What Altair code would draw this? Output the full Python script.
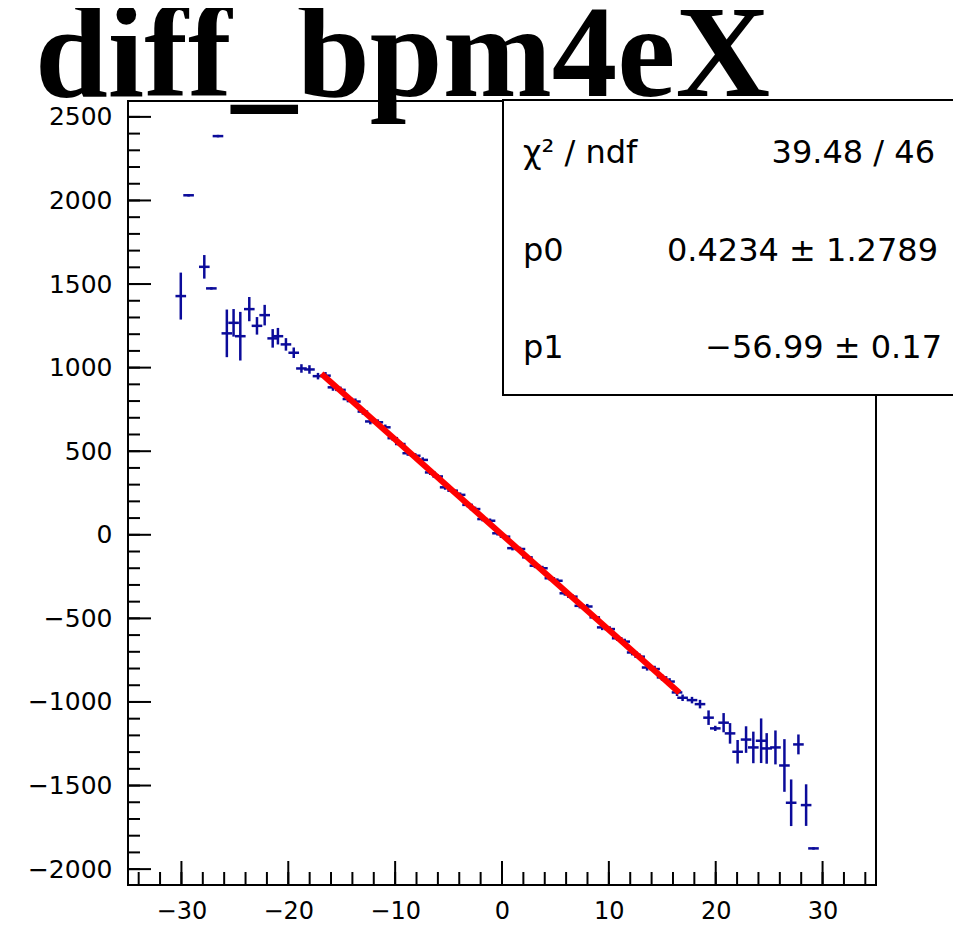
import altair as alt
import pandas as pd

TITLE = "diff_bpm4eX"

# ---- profile points: left tail ----
X_LEFT = [-30.06, -29.33, -27.86, -27.20, -26.58, -25.75, -25.12, -24.49, -23.65,
          -22.93, -22.21, -21.46, -20.97, -20.22, -19.49, -18.77, -18.02, -17.22]
Y_LEFT = [1428, 2031, 1603, 1474, 2385, 1205, 1268, 1188, 1350,
          1250, 1314, 1175, 1188, 1139, 1089, 995, 989, 949]
E_LEFT = [133, 0, 63, 0, 0, 135, 75, 138, 65, 45, 54, 48, 42, 30, 24, 18, 18, 12]

# ---- profile points: fitted core ----
X_MID = [-16.52, -15.82, -15.12, -14.42, -13.72, -13.02, -12.32, -11.62, -10.92, -10.22,
         -9.52, -8.82, -8.12, -7.42, -6.72, -6.02, -5.32, -4.62, -3.92, -3.22,
         -2.52, -1.82, -1.12, -0.42, 0.28, 0.98, 1.68, 2.38, 3.08, 3.78,
         4.48, 5.18, 5.88, 6.58, 7.28, 7.98, 8.68, 9.38, 10.08, 10.78,
         11.48, 12.18, 12.88, 13.58, 14.28, 14.98, 15.68, 16.38]
Y_MID = [952, 882, 867, 812, 797, 737, 678, 673, 643, 578,
         543, 488, 473, 448, 373, 349, 284, 264, 239, 179,
         154, 94, 84, 9, -11, -80, -85, -135, -185, -200,
         -260, -275, -350, -370, -425, -429, -494, -554, -564, -619,
         -639, -704, -729, -794, -803, -853, -878, -943]
E_MID = [14, 13, 12, 12, 11, 11, 10, 10, 9, 9,
         9, 8, 8, 8, 8, 7, 7, 7, 7, 7,
         7, 6, 6, 6, 6, 6, 6, 7, 7, 7,
         7, 7, 7, 8, 8, 8, 8, 9, 9, 9,
         10, 10, 11, 11, 12, 12, 13, 14]

# ---- profile points: right tail ----
X_RIGHT = [16.90, 17.78, 18.53, 19.33, 19.96, 20.74, 21.34, 22.05, 22.84,
           23.52, 24.25, 24.77, 25.59, 26.43, 27.06, 27.74, 28.46, 29.15]
Y_RIGHT = [-975, -989, -1013, -1094, -1158, -1124, -1188, -1298, -1225,
           -1272, -1232, -1278, -1272, -1380, -1603, -1254, -1617, -1876]
E_RIGHT = [12, 12, 18, 36, 8, 50, 54, 63, 72, 87, 126, 84, 94, 150, 132, 52, 117, 0]

# ---- fit result ----
P0, P0_ERR = 0.4234, 1.2789
P1, P1_ERR = -56.99, 0.17
CHI2, NDF = 39.48, 46
FIT_RANGE = [-16.9, 16.6]

# ---- axes ----
X_DOMAIN = [-35, 35]
Y_DOMAIN = [-2095, 2595]
X_MAJOR = [-30, -20, -10, 0, 10, 20, 30]
X_MINOR = list(range(-34, 35, 2))
Y_MAJOR = [-2000, -1500, -1000, -500, 0, 500, 1000, 1500, 2000, 2500]
Y_MINOR = list(range(-2000, 2501, 100))

W, H = 748, 784
BLUE = "#0b0b9a"
HALF_BIN = 0.38

pts = pd.DataFrame({
    "x": X_LEFT + X_MID + X_RIGHT,
    "y": Y_LEFT + Y_MID + Y_RIGHT,
    "err": E_LEFT + E_MID + E_RIGHT,
})
pts["lo"] = pts["y"] - pts["err"]
pts["hi"] = pts["y"] + pts["err"]
pts["xl"] = pts["x"] - HALF_BIN
pts["xr"] = pts["x"] + HALF_BIN

fit = pd.DataFrame({"x": FIT_RANGE, "y": [P0 + P1 * v for v in FIT_RANGE]})
one = pd.DataFrame({"t": [TITLE]})

XS = alt.Scale(domain=X_DOMAIN, nice=False, zero=False)
YS = alt.Scale(domain=Y_DOMAIN, nice=False, zero=False)
XA = alt.Axis(values=X_MAJOR, ticks=False, domain=False, grid=False, format="d",
              labelFont="DejaVu Sans", labelFontSize=24, labelColor="black",
              labelPadding=14, labelFlush=False, labelOverlap=False, title=None)
YA = alt.Axis(values=Y_MAJOR, ticks=False, domain=False, grid=False, format="d",
              labelFont="DejaVu Sans", labelFontSize=25, labelColor="black",
              labelPadding=16, labelFlush=False, labelOverlap=False, title=None)

frame = alt.Chart(one).mark_rect(fillOpacity=0, stroke="black", strokeWidth=2).encode(
    x=alt.value(0), x2=alt.value(W), y=alt.value(0), y2=alt.value(H))

xmaj = alt.Chart(pd.DataFrame({"x": X_MAJOR})).mark_rule(color="black", strokeWidth=2).encode(
    x=alt.X("x:Q", scale=XS, axis=XA), y=alt.value(H), y2=alt.value(H - 24))
xmin = alt.Chart(pd.DataFrame({"x": X_MINOR})).mark_rule(color="black", strokeWidth=2).encode(
    x=alt.X("x:Q", scale=XS, axis=XA), y=alt.value(H), y2=alt.value(H - 13))
ymaj = alt.Chart(pd.DataFrame({"y": Y_MAJOR})).mark_rule(color="black", strokeWidth=2).encode(
    y=alt.Y("y:Q", scale=YS, axis=YA), x=alt.value(0), x2=alt.value(23))
ymin = alt.Chart(pd.DataFrame({"y": Y_MINOR})).mark_rule(color="black", strokeWidth=2).encode(
    y=alt.Y("y:Q", scale=YS, axis=YA), x=alt.value(0), x2=alt.value(12))

vbars = alt.Chart(pts).mark_rule(color=BLUE, strokeWidth=2.5, strokeCap="square").encode(
    x=alt.X("x:Q", scale=XS, axis=XA), y=alt.Y("lo:Q", scale=YS, axis=YA), y2="hi:Q")
hbars = alt.Chart(pts).mark_rule(color=BLUE, strokeWidth=2.5, strokeCap="square").encode(
    x=alt.X("xl:Q", scale=XS, axis=XA), x2="xr:Q", y=alt.Y("y:Q", scale=YS, axis=YA))

fitline = alt.Chart(fit).mark_line(color="#ff0000", strokeWidth=6).encode(
    x=alt.X("x:Q", scale=XS, axis=XA), y=alt.Y("y:Q", scale=YS, axis=YA))

box = alt.Chart(one).mark_rect(fill="white", stroke="black", strokeWidth=2).encode(
    x=alt.value(375), x2=alt.value(900), y=alt.value(-1), y2=alt.value(294))

STAT_FONT = "DejaVu Sans"
STAT_SIZE = 32
stat_rows = [
    ("χ² / ndf", f"{CHI2:.2f} / {NDF}", 62, 807),
    ("p0", f"{P0:.4f}  ± {P0_ERR:.4f}", 160, 810),
    ("p1", f"{P1:.2f}  ± {P1_ERR:.2f}".replace("-", "−"), 257, 814),
]
stat_layers = []
for lab, val, yb, xr in stat_rows:
    stat_layers.append(alt.Chart(one).mark_text(
        font=STAT_FONT, fontSize=STAT_SIZE, align="left", baseline="alphabetic", color="black"
    ).encode(x=alt.value(395), y=alt.value(yb), text=alt.value(lab)))
    stat_layers.append(alt.Chart(one).mark_text(
        font=STAT_FONT, fontSize=STAT_SIZE, align="right", baseline="alphabetic", color="black"
    ).encode(x=alt.value(xr), y=alt.value(yb), text=alt.value(val)))

title = alt.Chart(one).mark_text(
    font="Liberation Serif", fontWeight="bold", fontSize=131, align="left",
    baseline="alphabetic", color="black"
).encode(x=alt.value(-93), y=alt.value(-5), text="t:N")

chart = alt.layer(
    frame, xmin, xmaj, ymin, ymaj, vbars, hbars, fitline, box, *stat_layers, title
).properties(
    width=W, height=H,
    padding={"left": 120, "top": 93, "right": 77, "bottom": 43},
    autosize=alt.AutoSizeParams(type="none"),
).configure_view(strokeWidth=0)

chart.save("out.html", embed_options={"renderer": "svg", "actions": False})
